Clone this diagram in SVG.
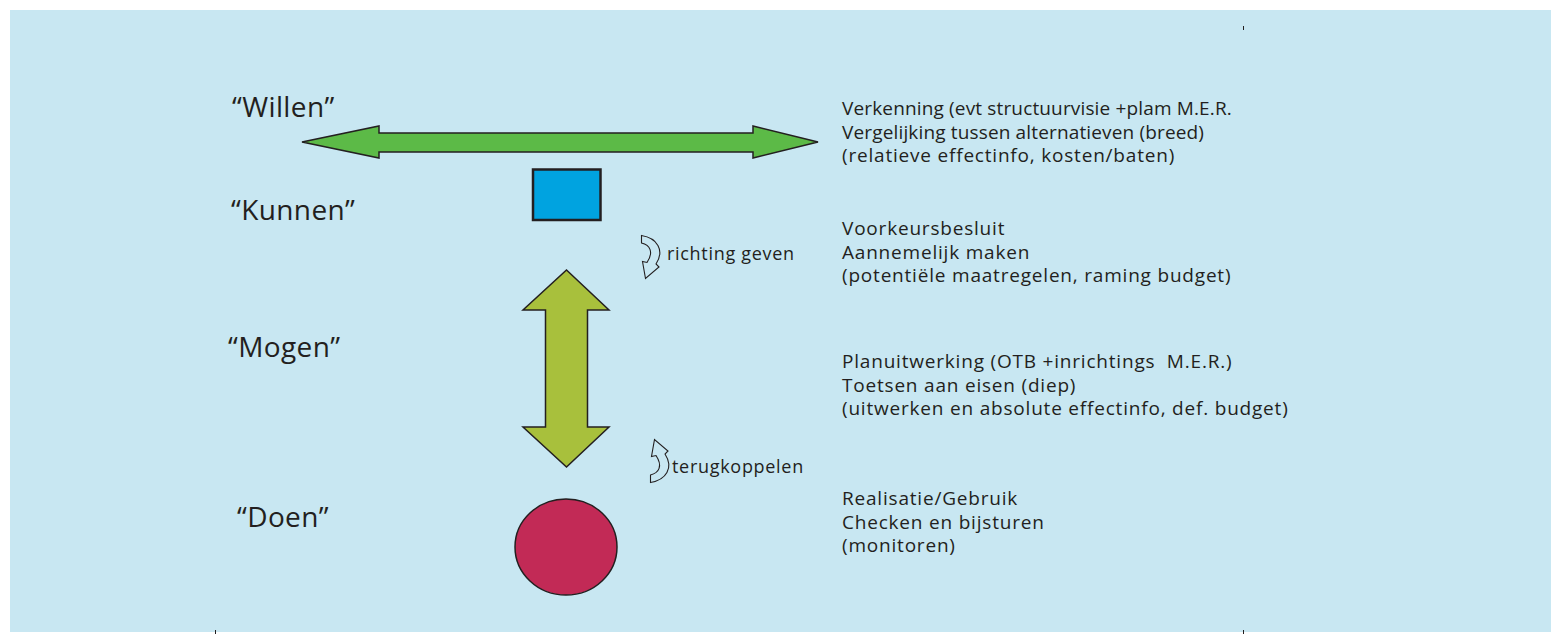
<svg xmlns="http://www.w3.org/2000/svg" width="1551" height="634" viewBox="0 0 1551 634">
<style>
.lbl{font-family:"Open Sans","Noto Sans","Liberation Sans",sans-serif;font-size:28px;letter-spacing:0.4px;fill:#231f20}
.txt{font-family:"Open Sans","Noto Sans","Liberation Sans",sans-serif;font-size:19px;letter-spacing:0.8px;fill:#231f20}
.tight{letter-spacing:0.15px}
.sm{font-family:"Open Sans","Noto Sans","Liberation Sans",sans-serif;font-size:18px;letter-spacing:0.7px;fill:#231f20}
.shape{stroke:#231f20;stroke-width:1.5;stroke-linejoin:miter}
.icon{fill:none;stroke:#231f20;stroke-width:1.1;stroke-linejoin:miter}
.mark{stroke:#231f20;stroke-width:1}
</style>
<defs>
<path id="curl" d="M641.5,235.5 C657,238 665,250 656,264 L659,267 L645.5,278.5 L642.5,261.5 L647,262.5 C654,252 650,245 641.5,243 Z"/>
</defs>
<rect x="0" y="0" width="1551" height="634" fill="#ffffff"/>
<rect x="10" y="10" width="1541" height="622" fill="#c8e7f2"/>
<line class="mark" x1="1243.5" y1="26" x2="1243.5" y2="30"/>
<line class="mark" x1="215.5" y1="630" x2="215.5" y2="634"/>
<line class="mark" x1="1243.5" y1="630" x2="1243.5" y2="634"/>

<g id="labels">
<text class="lbl" x="232" y="117">“Willen”</text>
<text class="lbl" x="231" y="220">“Kunnen”</text>
<text class="lbl" x="228" y="357">“Mogen”</text>
<text class="lbl" x="237" y="527">“Doen”</text>
</g>

<g id="willen-arrow">
<polygon class="shape" fill="#5cba47" points="302,142 379,126 379,133 753,133 753,126 818,142 753,158 753,152 379,152 379,158"/>
</g>
<g id="kunnen-box">
<rect x="533" y="169.5" width="67.5" height="50.5" fill="#00a3e0" stroke="#231f20" stroke-width="2.5"/>
</g>
<g id="mogen-arrow">
<polygon class="shape" fill="#a8c03c" points="566.5,270 609,310 587.5,310 587.5,427 609,427 566.5,467 523,427 545.5,427 545.5,310 523,310"/>
</g>
<g id="doen-circle">
<ellipse class="shape" fill="#c22a56" cx="566" cy="547" rx="51" ry="48"/>
</g>

<g id="connectors">
<use href="#curl" class="icon"/>
<use href="#curl" class="icon" transform="translate(9,718) scale(1,-1)"/>
</g>

<g id="feedback-labels">
<text class="sm" x="667" y="260">richting geven</text>
<text class="sm" x="672" y="473">terugkoppelen</text>
</g>

<g id="willen-text">
<text class="txt tight" x="842" y="115">Verkenning (evt structuurvisie +plam M.E.R.</text>
<text class="txt tight" x="842" y="138.5">Vergelijking tussen alternatieven (breed)</text>
<text class="txt" x="842" y="162">(relatieve effectinfo, kosten/baten)</text>
</g>
<g id="kunnen-text">
<text class="txt" x="842" y="235">Voorkeursbesluit</text>
<text class="txt" x="842" y="258.5">Aannemelijk maken</text>
<text class="txt" x="842" y="282">(potentiële maatregelen, raming budget)</text>
</g>
<g id="mogen-text">
<text class="txt" x="842" y="368">Planuitwerking (OTB +inrichtings&#160; M.E.R.)</text>
<text class="txt" x="842" y="391.5">Toetsen aan eisen (diep)</text>
<text class="txt" x="842" y="415">(uitwerken en absolute effectinfo, def. budget)</text>
</g>
<g id="doen-text">
<text class="txt" x="842" y="505">Realisatie/Gebruik</text>
<text class="txt" x="842" y="528.5">Checken en bijsturen</text>
<text class="txt" x="842" y="552">(monitoren)</text>
</g>
</svg>
